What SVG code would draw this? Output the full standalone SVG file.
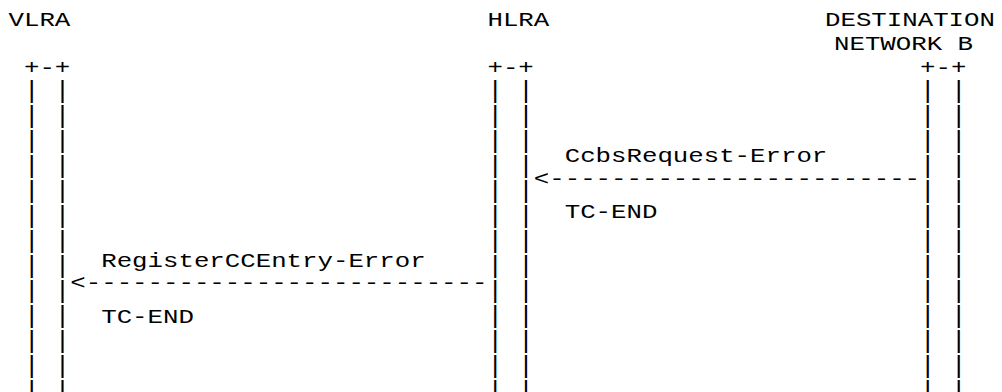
<svg xmlns="http://www.w3.org/2000/svg" width="1002" height="392" viewBox="0 0 1002 392">
<style>
text{font-family:"Liberation Mono","DejaVu Sans Mono",monospace;font-size:20px;fill:#000;white-space:pre}
.bar{font-size:24px}
</style>
<rect width="1002" height="392" fill="#fff"/>
<g id="vlra">
<text x="8.5" y="26" textLength="61.8" lengthAdjust="spacingAndGlyphs">VLRA</text>
<text x="23.95" y="74" textLength="46.35" lengthAdjust="spacingAndGlyphs">+-+</text>
<g class="bars">
<text class="bar" x="23.95" y="98" textLength="46.35" lengthAdjust="spacingAndGlyphs">| |</text>
<text class="bar" x="23.95" y="123" textLength="46.35" lengthAdjust="spacingAndGlyphs">| |</text>
<text class="bar" x="23.95" y="148" textLength="46.35" lengthAdjust="spacingAndGlyphs">| |</text>
<text class="bar" x="23.95" y="173" textLength="46.35" lengthAdjust="spacingAndGlyphs">| |</text>
<text class="bar" x="23.95" y="198" textLength="46.35" lengthAdjust="spacingAndGlyphs">| |</text>
<text class="bar" x="23.95" y="223" textLength="46.35" lengthAdjust="spacingAndGlyphs">| |</text>
<text class="bar" x="23.95" y="248" textLength="46.35" lengthAdjust="spacingAndGlyphs">| |</text>
<text class="bar" x="23.95" y="273" textLength="46.35" lengthAdjust="spacingAndGlyphs">| |</text>
<text class="bar" x="23.95" y="298" textLength="46.35" lengthAdjust="spacingAndGlyphs">| |</text>
<text class="bar" x="23.95" y="323" textLength="46.35" lengthAdjust="spacingAndGlyphs">| |</text>
<text class="bar" x="23.95" y="348" textLength="46.35" lengthAdjust="spacingAndGlyphs">| |</text>
<text class="bar" x="23.95" y="373" textLength="46.35" lengthAdjust="spacingAndGlyphs">| |</text>
<text class="bar" x="23.95" y="398" textLength="46.35" lengthAdjust="spacingAndGlyphs">| |</text>
</g>
</g>
<g id="hlra">
<text x="487.45" y="26" textLength="61.8" lengthAdjust="spacingAndGlyphs">HLRA</text>
<text x="487.45" y="74" textLength="46.35" lengthAdjust="spacingAndGlyphs">+-+</text>
<g class="bars">
<text class="bar" x="487.45" y="98" textLength="46.35" lengthAdjust="spacingAndGlyphs">| |</text>
<text class="bar" x="487.45" y="123" textLength="46.35" lengthAdjust="spacingAndGlyphs">| |</text>
<text class="bar" x="487.45" y="148" textLength="46.35" lengthAdjust="spacingAndGlyphs">| |</text>
<text class="bar" x="487.45" y="173" textLength="46.35" lengthAdjust="spacingAndGlyphs">| |</text>
<text class="bar" x="487.45" y="198" textLength="46.35" lengthAdjust="spacingAndGlyphs">| |</text>
<text class="bar" x="487.45" y="223" textLength="46.35" lengthAdjust="spacingAndGlyphs">| |</text>
<text class="bar" x="487.45" y="248" textLength="46.35" lengthAdjust="spacingAndGlyphs">| |</text>
<text class="bar" x="487.45" y="273" textLength="46.35" lengthAdjust="spacingAndGlyphs">| |</text>
<text class="bar" x="487.45" y="298" textLength="46.35" lengthAdjust="spacingAndGlyphs">| |</text>
<text class="bar" x="487.45" y="323" textLength="46.35" lengthAdjust="spacingAndGlyphs">| |</text>
<text class="bar" x="487.45" y="348" textLength="46.35" lengthAdjust="spacingAndGlyphs">| |</text>
<text class="bar" x="487.45" y="373" textLength="46.35" lengthAdjust="spacingAndGlyphs">| |</text>
<text class="bar" x="487.45" y="398" textLength="46.35" lengthAdjust="spacingAndGlyphs">| |</text>
</g>
</g>
<g id="destination-network-b">
<text x="825" y="26" textLength="169.95" lengthAdjust="spacingAndGlyphs">DESTINATION</text>
<text x="834" y="49.5" textLength="139.05" lengthAdjust="spacingAndGlyphs">NETWORK B</text>
<text x="920.05" y="74" textLength="46.35" lengthAdjust="spacingAndGlyphs">+-+</text>
<g class="bars">
<text class="bar" x="920.05" y="98" textLength="46.35" lengthAdjust="spacingAndGlyphs">| |</text>
<text class="bar" x="920.05" y="123" textLength="46.35" lengthAdjust="spacingAndGlyphs">| |</text>
<text class="bar" x="920.05" y="148" textLength="46.35" lengthAdjust="spacingAndGlyphs">| |</text>
<text class="bar" x="920.05" y="173" textLength="46.35" lengthAdjust="spacingAndGlyphs">| |</text>
<text class="bar" x="920.05" y="198" textLength="46.35" lengthAdjust="spacingAndGlyphs">| |</text>
<text class="bar" x="920.05" y="223" textLength="46.35" lengthAdjust="spacingAndGlyphs">| |</text>
<text class="bar" x="920.05" y="248" textLength="46.35" lengthAdjust="spacingAndGlyphs">| |</text>
<text class="bar" x="920.05" y="273" textLength="46.35" lengthAdjust="spacingAndGlyphs">| |</text>
<text class="bar" x="920.05" y="298" textLength="46.35" lengthAdjust="spacingAndGlyphs">| |</text>
<text class="bar" x="920.05" y="323" textLength="46.35" lengthAdjust="spacingAndGlyphs">| |</text>
<text class="bar" x="920.05" y="348" textLength="46.35" lengthAdjust="spacingAndGlyphs">| |</text>
<text class="bar" x="920.05" y="373" textLength="46.35" lengthAdjust="spacingAndGlyphs">| |</text>
<text class="bar" x="920.05" y="398" textLength="46.35" lengthAdjust="spacingAndGlyphs">| |</text>
</g>
</g>
<g id="connectors">
<g id="msg-ccbs">
<text x="564.7" y="162" textLength="262.65" lengthAdjust="spacingAndGlyphs">CcbsRequest-Error</text>
<text x="533.8" y="185" textLength="386.25" lengthAdjust="spacingAndGlyphs">&lt;------------------------</text>
<text x="564.7" y="218" textLength="92.7" lengthAdjust="spacingAndGlyphs">TC-END</text>
</g>
<g id="msg-register">
<text x="101.2" y="266.5" textLength="324.45" lengthAdjust="spacingAndGlyphs">RegisterCCEntry-Error</text>
<text x="70.3" y="289" textLength="417.15" lengthAdjust="spacingAndGlyphs">&lt;--------------------------</text>
<text x="101.2" y="323" textLength="92.7" lengthAdjust="spacingAndGlyphs">TC-END</text>
</g>
</g>
</svg>
